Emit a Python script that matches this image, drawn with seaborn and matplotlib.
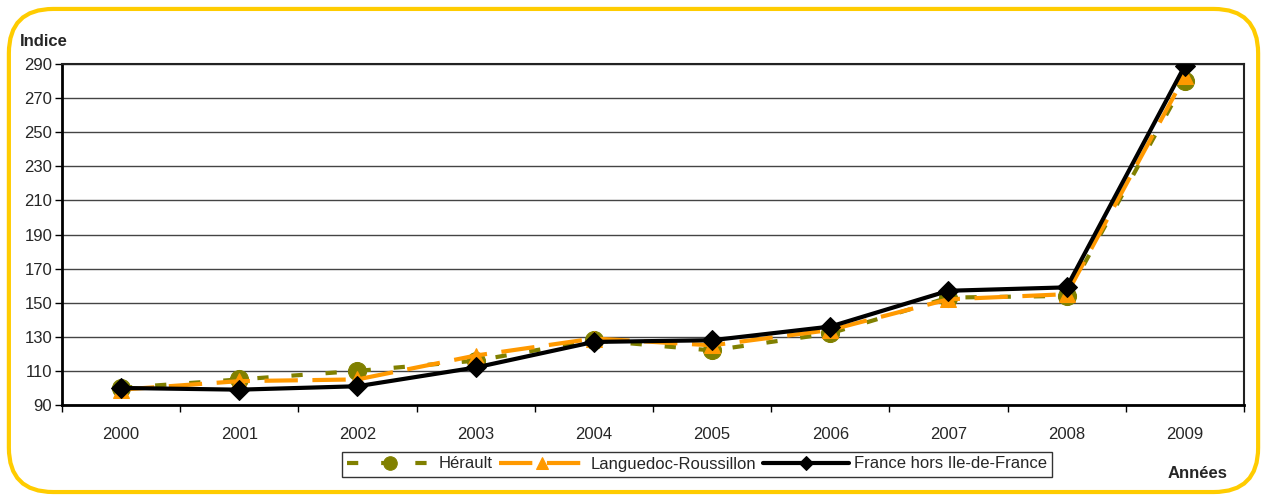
import matplotlib

matplotlib.use("Agg")

import matplotlib.pyplot as plt
import pandas as pd
import seaborn as sns
from matplotlib.patches import FancyBboxPatch

years = ["2000", "2001", "2002", "2003", "2004", "2005", "2006", "2007", "2008", "2009"]
herault = [100, 105, 110, 116, 128, 122, 132, 153, 154, 280]
languedoc = [99, 104, 105, 119, 129, 125, 134, 152, 155, 283]
france = [100, 99, 101, 112, 127, 128, 136, 157, 159, 289]

df = pd.DataFrame({"pos": range(len(years)), "Hérault": herault,
                   "Languedoc-Roussillon": languedoc, "France hors Ile-de-France": france})

sns.set_theme(style="white")
plt.rcParams["font.family"] = ["Liberation Sans", "DejaVu Sans"]

fig = plt.figure(figsize=(12.67, 4.97), dpi=100)
fig.patches.append(FancyBboxPatch((0.007, 0.010), 0.986, 0.972, boxstyle="round,pad=0,rounding_size=0.035",
                                  transform=fig.transFigure, facecolor="white", edgecolor="#FFCC00",
                                  linewidth=3, mutation_aspect=1267 / 497, zorder=-1))
ax = fig.add_axes([0.0489, 0.1851, 0.9329, 0.6861])
ax.set_facecolor("none")

sns.lineplot(data=df, x="pos", y="Hérault", ax=ax, color="#808000", linewidth=3,
             linestyle=(0, (2.7, 5.5)), marker="o", markersize=13,
             markeredgecolor="#808000", label="Hérault", zorder=3)
sns.lineplot(data=df, x="pos", y="Languedoc-Roussillon", ax=ax, color="#FF9900", linewidth=3,
             linestyle=(0, (8, 3.5)), marker="^", markersize=11,
             markeredgecolor="#FF9900", label="Languedoc-Roussillon", zorder=4)
sns.lineplot(data=df, x="pos", y="France hors Ile-de-France", ax=ax, color="black", linewidth=3,
             marker="D", markersize=10, markeredgecolor="black",
             label="France hors Ile-de-France", zorder=5)

ax.set_xlim(-0.5, 9.5)
ax.set_ylim(90, 290)
ax.set_yticks(range(90, 291, 20))
ax.set_xticks(range(len(years)))
ax.set_xticklabels(years)
ax.set_xticks([i - 0.5 for i in range(len(years) + 1)], minor=True)
ax.tick_params(axis="x", which="major", length=0, pad=16, labelsize=12)
ax.tick_params(axis="x", which="minor", length=5, width=1, direction="out", color="black", bottom=True)
ax.tick_params(axis="y", length=5, width=1, direction="out", color="black", left=True, labelsize=12, pad=2)
ax.grid(axis="y", color="#444444", linewidth=1)
ax.grid(axis="x", visible=False)
for side in ["left", "bottom"]:
    ax.spines[side].set_color("black")
    ax.spines[side].set_linewidth(2)
for side in ["top", "right"]:
    ax.spines[side].set_color("#222222")
    ax.spines[side].set_linewidth(1.5)
ax.set_xlabel("")
ax.set_ylabel("")

fig.text(20 / 1267, 1 - 42 / 497, "Indice", fontsize=12, fontweight="bold", va="center", ha="left")
fig.text(1168 / 1267, 1 - 474 / 497, "Années", fontsize=12, fontweight="bold", va="center", ha="left")

leg = ax.legend(loc="center", bbox_to_anchor=(697 / 1267, 1 - 464 / 497), bbox_transform=fig.transFigure,
                ncol=3, frameon=True, fancybox=False, fontsize=12, handlelength=5.2, markerscale=0.75,
                columnspacing=0.4, handletextpad=0.3, borderpad=0.3, borderaxespad=0)
leg.get_frame().set_edgecolor("black")
leg.get_frame().set_linewidth(1)

fig.savefig("out.png", dpi=100)
